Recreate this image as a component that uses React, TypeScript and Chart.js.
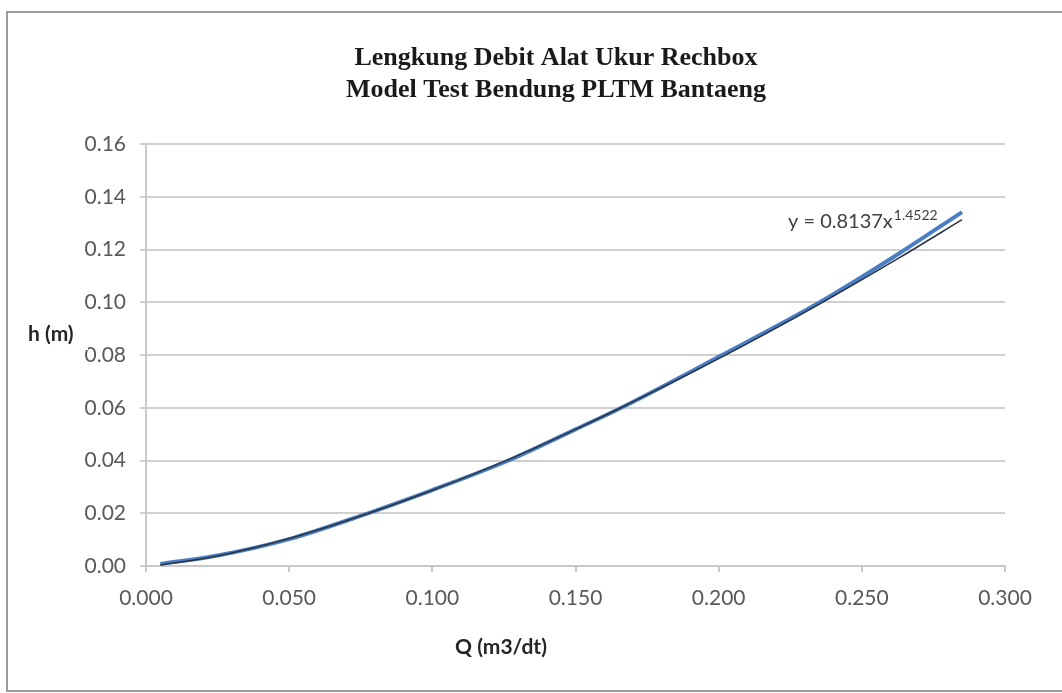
import React, { useEffect, useRef } from "react";
import { Chart, registerables } from "chart.js";

Chart.register(...registerables);

const titleLines = ["Lengkung Debit Alat Ukur Rechbox", "Model Test Bendung PLTM Bantaeng"];
const xTitle = "Q (m3/dt)";
const yTitle = "h (m)";
const equationMain = "y = 0.8137x";
const equationExp = "1.4522";

// Measured data (blue curve)
const qData = [0.005, 0.025, 0.05, 0.077, 0.1, 0.127, 0.15, 0.166, 0.2, 0.235, 0.263, 0.285];
const hData = [0.0008, 0.004, 0.0102, 0.0198, 0.0288, 0.0402, 0.0518, 0.06, 0.0793, 0.0998, 0.1185, 0.1342];

// Power trendline (thin dark line)
const qTrend = [0.005, 0.025, 0.05, 0.077, 0.1, 0.127, 0.15, 0.166, 0.2, 0.235, 0.263, 0.285];
const hTrend = [0.0004, 0.0038, 0.0104, 0.0197, 0.0287, 0.0405, 0.0518, 0.0601, 0.0786, 0.0992, 0.1168, 0.1313];

const xTicks = [0, 0.05, 0.1, 0.15, 0.2, 0.25, 0.3];
const yTicks = [0, 0.02, 0.04, 0.06, 0.08, 0.1, 0.12, 0.14, 0.16];

export default function App() {
  const ref = useRef<HTMLCanvasElement | null>(null);
  useEffect(() => {
    if (!ref.current) return;
    const decor = {
      id: "decor",
      beforeDraw(chart: any) {
        const ctx = chart.ctx;
        ctx.save();
        ctx.fillStyle = "#ffffff";
        ctx.fillRect(0, 0, chart.width, chart.height);
        ctx.strokeStyle = "#9a9a9a";
        ctx.lineWidth = 2;
        ctx.strokeRect(7, 12, 1070, 679);
        ctx.restore();
      },
      afterDraw(chart: any) {
        const ctx = chart.ctx;
        ctx.save();
        ctx.fillStyle = "#1a1a1a";
        ctx.textAlign = "center";
        ctx.textBaseline = "alphabetic";
        ctx.font = "bold 26px 'Liberation Serif', serif";
        ctx.fillText(titleLines[0], 556, 65);
        ctx.fillText(titleLines[1], 556, 97);
        // y title with white box (hides part of tick label)
        ctx.textBaseline = "middle";
        ctx.fillStyle = "#ffffff";
        ctx.fillRect(20, 316, 68, 34);
        ctx.fillStyle = "#262626";
        ctx.font = "bold 21px Lato, sans-serif";
        ctx.textAlign = "left";
        ctx.fillText(yTitle, 28, 334);
        ctx.textAlign = "center";
        ctx.fillText(xTitle, 501, 647);
        // equation
        ctx.fillStyle = "#404040";
        ctx.textAlign = "left";
        ctx.font = "20px Lato, sans-serif";
        ctx.fillText(equationMain, 788, 222);
        const w = ctx.measureText(equationMain).width;
        ctx.font = "14px Lato, sans-serif";
        ctx.fillText(equationExp, 788 + w + 1, 215);
        ctx.restore();
      },
    };
    const chart = new Chart(ref.current, {
      type: "line",
      data: {
        datasets: [
          {
            label: "data",
            data: qData.map((q, i) => ({ x: q, y: hData[i] })),
            borderColor: "#4a7ec4",
            borderWidth: 4,
            pointRadius: 0,
            cubicInterpolationMode: "monotone",
            order: 2,
          },
          {
            label: "trend",
            data: qTrend.map((q, i) => ({ x: q, y: hTrend[i] })),
            borderColor: "#2b3340",
            borderWidth: 1.5,
            pointRadius: 0,
            cubicInterpolationMode: "monotone",
            order: 1,
          },
        ],
      },
      plugins: [decor],
      options: {
        animation: false,
        responsive: false,
        maintainAspectRatio: false,
        layout: { padding: { top: 144, left: 0, right: 57, bottom: 87 } },
        plugins: { legend: { display: false }, title: { display: false }, tooltip: { enabled: false } },
        scales: {
          x: {
            type: "linear",
            min: 0,
            max: 0.3,
            afterFit(s: any) { s.height = 40; },
            afterBuildTicks(s: any) { s.ticks = xTicks.map((v) => ({ value: v })); },
            ticks: {
              color: "#595959",
              font: { family: "Lato", size: 21 },
              padding: 14,
              maxRotation: 0,
              callback: (v: any) => Number(v).toFixed(3),
            },
            grid: { display: true, drawOnChartArea: false, drawTicks: true, tickLength: 6, color: "#c8c8c8", lineWidth: 2 },
            border: { display: true, color: "#c8c8c8", width: 2 },
          },
          y: {
            min: 0,
            max: 0.16,
            afterFit(s: any) { s.width = 146; },
            afterBuildTicks(s: any) { s.ticks = yTicks.map((v) => ({ value: v })); },
            ticks: {
              color: "#595959",
              font: { family: "Lato", size: 21 },
              padding: 14,
              callback: (v: any) => Number(v).toFixed(2),
            },
            grid: { display: true, drawOnChartArea: true, drawTicks: true, tickLength: 6, color: "#d0d0d0", lineWidth: 2 },
            border: { display: true, color: "#c8c8c8", width: 2 },
          },
        },
      },
    } as any);
    return () => chart.destroy();
  }, []);
  return (
    <div style={{ position: "fixed", left: 0, top: 0, width: 1062, height: 693, background: "#fff" }}>
      <canvas ref={ref} width={1062} height={693} style={{ width: 1062, height: 693, display: "block" }} />
    </div>
  );
}
